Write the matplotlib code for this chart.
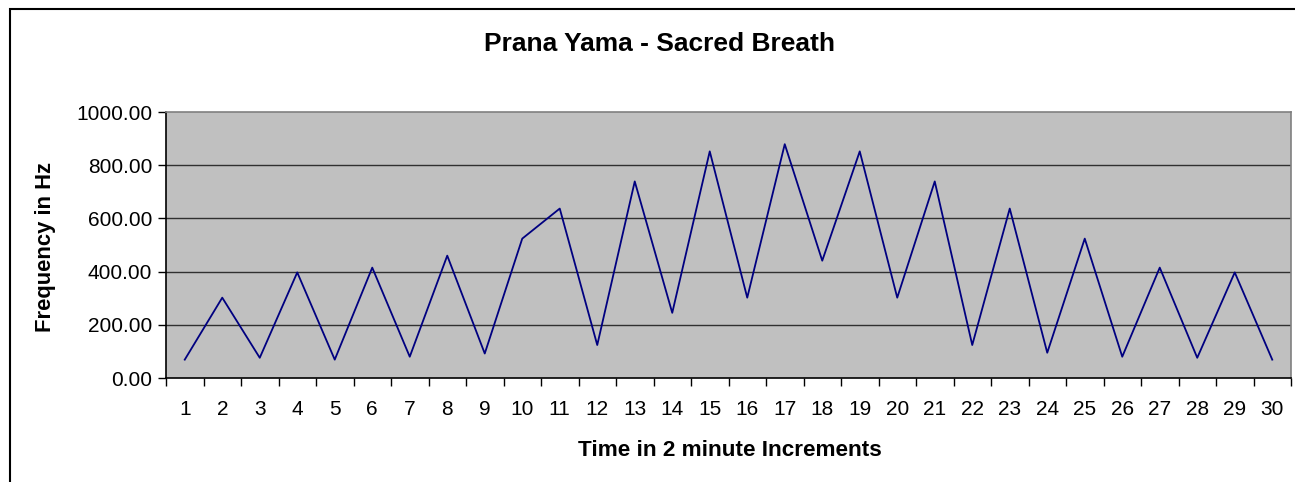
import numpy as np
import matplotlib.pyplot as plt
from matplotlib.patches import Rectangle

# Data
steps = list(range(1, 31))
freq = [69, 302, 76, 397, 69, 415, 80, 460, 92, 524,
        637, 124, 739, 245, 852, 302, 879, 441, 852, 302,
        739, 124, 637, 95, 524, 80, 415, 76, 397, 69]

plt.rcParams['font.family'] = ['Liberation Sans', 'DejaVu Sans']

W, H = 1295, 482
fig = plt.figure(figsize=(W / 100, H / 100), dpi=100)
fig.patch.set_facecolor('white')

# outer chart border (right/bottom edges are cut off in the original)
fig.patches.append(Rectangle((10 / W, -0.05), 1.2, 1 - 9 / H + 0.05,
                             transform=fig.transFigure, fill=False,
                             edgecolor='black', linewidth=1.5))

left, right, top, bottom = 166, 1291, 112, 378
ax = fig.add_axes([left / W, 1 - bottom / H, (right - left) / W, (bottom - top) / H])
ax.set_facecolor('#C0C0C0')

ax.plot(steps, freq, color='#000080', linewidth=1.3, zorder=3)

ax.set_xlim(0.5, 30.5)
ax.set_ylim(0, 1000)
ax.set_yticks(np.arange(0, 1001, 200))
ax.set_yticklabels([f'{v:.2f}' for v in np.arange(0, 1001, 200)])
ax.set_xticks(steps)
ax.set_xticklabels([str(s) for s in steps])
ax.set_xticks(np.arange(0.5, 31, 1), minor=True)
ax.tick_params(axis='x', which='major', length=0, pad=16, labelsize=15)
ax.tick_params(axis='x', which='minor', length=6, width=1, color='black', direction='out')
ax.tick_params(axis='y', length=6, width=1, pad=4, labelsize=15, direction='out')

for v in [200, 400, 600, 800]:
    ax.axhline(v, color='#303030', linewidth=1, zorder=1)

ax.spines['left'].set_color('black')
ax.spines['bottom'].set_color('black')
ax.spines['top'].set_color('#808080')
ax.spines['right'].set_color('#808080')
for s in ax.spines.values():
    s.set_linewidth(1.2)

fig.text(659 / W, 1 - 44 / H, 'Prana Yama - Sacred Breath', ha='center', va='center',
         fontsize=19, fontweight='bold')
fig.text(46 / W, 1 - 247 / H, 'Frequency in Hz', ha='center', va='center',
         rotation=90, fontsize=15.8, fontweight='bold')
fig.text(730 / W, 1 - 450 / H, 'Time in 2 minute Increments', ha='center', va='center',
         fontsize=16.2, fontweight='bold')

plt.savefig('out.png', dpi=100)
